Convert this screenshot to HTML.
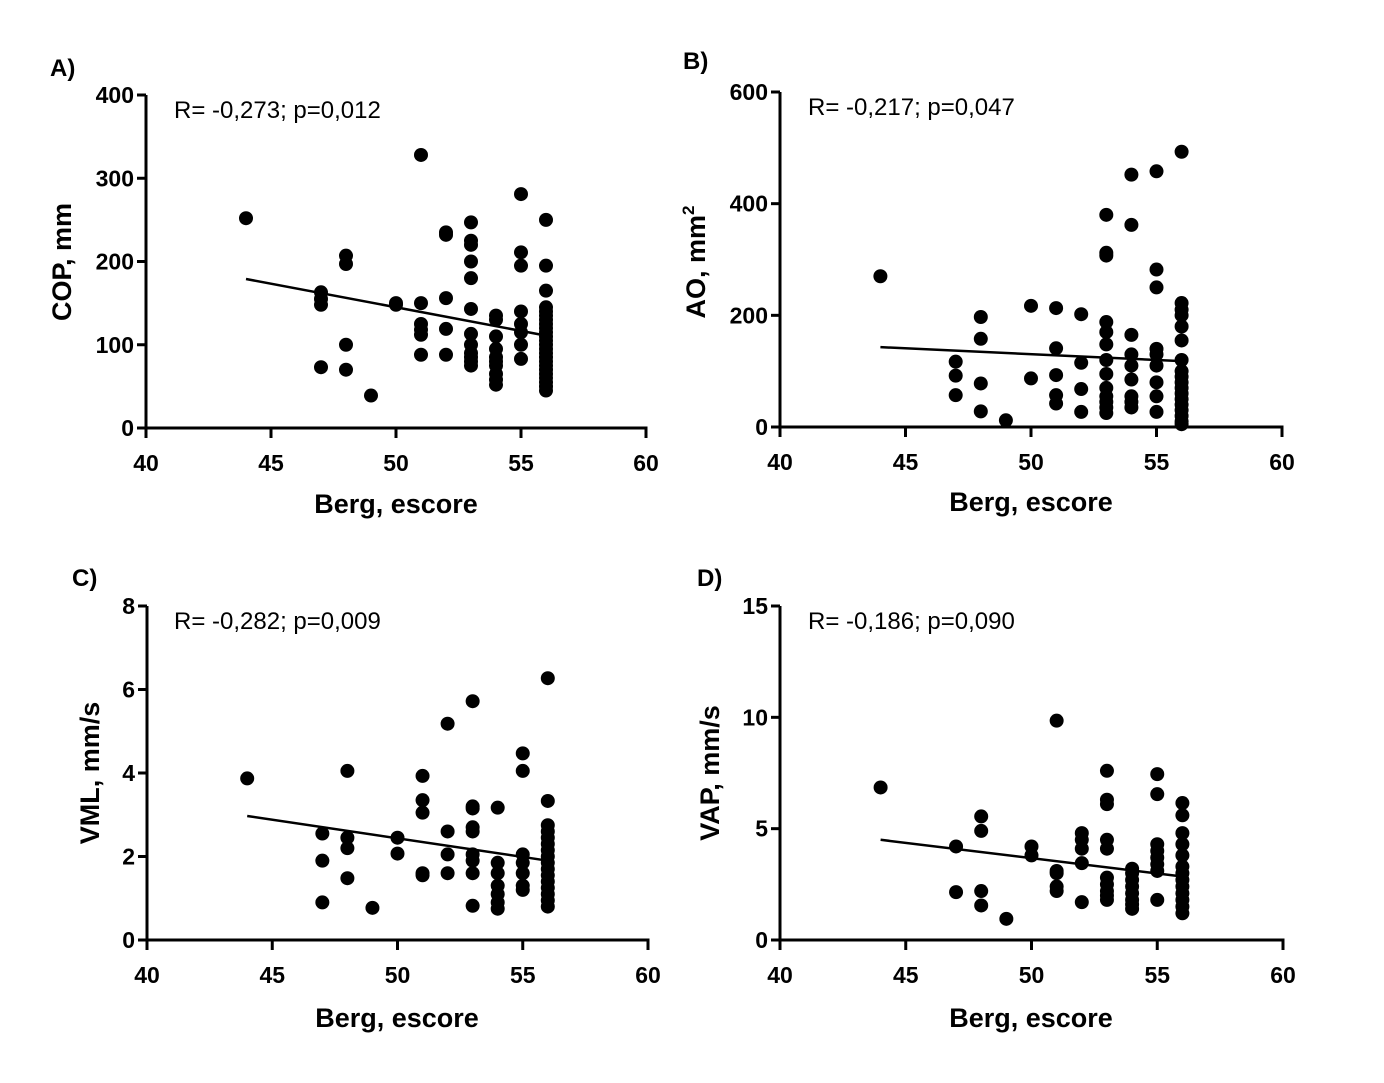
<!DOCTYPE html>
<html><head><meta charset="utf-8"><style>
html,body{margin:0;padding:0;background:#fff;}
svg text{font-family:"Liberation Sans",Arial,sans-serif;fill:#000;}
.t{font-weight:bold;font-size:23px;}
.ttl{font-weight:bold;font-size:27px;}
.pl{font-weight:bold;font-size:24px;}
.an{font-size:24px;}
</style></head><body>
<svg id="s" width="1384" height="1078" xmlns="http://www.w3.org/2000/svg">
<text class="pl" x="50" y="76">A)</text>
<text class="pl" x="683" y="69">B)</text>
<text class="pl" x="72" y="586">C)</text>
<text class="pl" x="697" y="586">D)</text>
<text class="an" x="174" y="118">R= -0,273; p=0,012</text>
<text class="an" x="808" y="115">R= -0,217; p=0,047</text>
<text class="an" x="174" y="629">R= -0,282; p=0,009</text>
<text class="an" x="808" y="629">R= -0,186; p=0,090</text>
<text class="ttl" x="396" y="513" text-anchor="middle">Berg, escore</text>
<text class="ttl" x="1031" y="511" text-anchor="middle">Berg, escore</text>
<text class="ttl" x="397" y="1027" text-anchor="middle">Berg, escore</text>
<text class="ttl" x="1031" y="1027" text-anchor="middle">Berg, escore</text>
<text class="ttl" transform="translate(71,262) rotate(-90)" text-anchor="middle">COP, mm</text>
<text class="ttl" transform="translate(705,262) rotate(-90)" text-anchor="middle">AO, mm<tspan font-size="17" dy="-11">2</tspan></text>
<text class="ttl" transform="translate(99,773) rotate(-90)" text-anchor="middle">VML, mm/s</text>
<text class="ttl" transform="translate(719,773) rotate(-90)" text-anchor="middle">VAP, mm/s</text>
</svg>
<script>
var s=document.getElementById('s'),NS='http://www.w3.org/2000/svg';
function el(n,a,t){var e=document.createElementNS(NS,n);for(var k in a)e.setAttribute(k,a[k]);if(t!==undefined)e.textContent=t;s.appendChild(e);return e;}
var P=[
{x0:146,x1:646,y0:428,y1:95,ym:400,yt:[0,100,200,300,400],line:[179,111],d:{44:[252],47:[163,155,148,73],48:[207,197,100,70],49:[39],50:[150,148],51:[328,150,125,118,112,88],52:[235,232,156,119,88],53:[247,225,220,200,180,143,113,100,90,85,80,75],54:[135,130,110,95,85,80,75,65,58,52],55:[281,211,195,140,125,115,100,83],56:[250,195,165,145,140,135,130,125,120,115,110,105,100,95,90,85,80,75,70,65,60,55,50,45]}},
{x0:780,x1:1282,y0:427,y1:92,ym:600,yt:[0,200,400,600],line:[143,118],d:{44:[270],47:[117,92,57],48:[197,158,78,28],49:[12],50:[217,87],51:[213,141,93,57,42],52:[202,115,68,27],53:[380,312,307,188,170,148,120,95,70,55,45,35,25],54:[452,362,165,130,110,85,55,45,35],55:[458,282,250,140,130,110,80,55,27],56:[493,222,210,200,180,155,120,100,90,80,70,60,50,40,30,20,10,5]}},
{x0:147,x1:648,y0:940,y1:606,ym:8,yt:[0,2,4,6,8],line:[2.97,1.9],d:{44:[3.87],47:[2.55,1.9,0.9],48:[4.05,2.45,2.2,1.48],49:[0.77],50:[2.45,2.07],51:[3.93,3.35,3.05,1.6,1.55],52:[5.18,2.6,2.05,1.6],53:[5.72,3.2,3.15,2.7,2.6,2.05,1.9,1.6,0.82],54:[3.17,1.85,1.6,1.3,1.1,0.9,0.75],55:[4.47,4.05,2.05,1.85,1.6,1.3,1.2],56:[6.27,3.33,2.75,2.6,2.45,2.3,2.15,2,1.85,1.7,1.55,1.4,1.25,1.1,0.95,0.8]}},
{x0:780,x1:1283,y0:940,y1:606,ym:15,yt:[0,5,10,15],line:[4.5,2.85],d:{44:[6.85],47:[4.2,2.15],48:[5.55,4.9,2.2,1.55],49:[0.95],50:[4.2,3.8],51:[9.85,3.1,3.0,2.4,2.2],52:[4.8,4.5,4.1,3.45,1.7],53:[7.6,6.3,6.1,4.5,4.1,2.8,2.5,2.2,2.0,1.8],54:[3.2,3.0,2.7,2.4,2.1,1.8,1.6,1.4],55:[7.45,6.55,4.3,4.0,3.7,3.4,3.1,1.8],56:[6.15,5.6,4.8,4.3,3.8,3.3,3.0,2.7,2.4,2.1,1.8,1.5,1.2]}}
];
P.forEach(function(p){
 var X=function(v){return p.x0+(v-40)/20*(p.x1-p.x0)},Y=function(v){return p.y0+v/p.ym*(p.y1-p.y0)};
 el('line',{x1:p.x0,y1:p.y1,x2:p.x0,y2:p.y0,stroke:'#000','stroke-width':3});
 el('line',{x1:p.x0-1.5,y1:p.y0,x2:p.x1+1.5,y2:p.y0,stroke:'#000','stroke-width':3});
 p.yt.forEach(function(v){var y=Y(v);el('line',{x1:p.x0-9,y1:y,x2:p.x0,y2:y,stroke:'#000','stroke-width':3});el('text',{'class':'t',x:p.x0-12,y:y+8,'text-anchor':'end'},v);});
 [40,45,50,55,60].forEach(function(v){var x=X(v);el('line',{x1:x,y1:p.y0,x2:x,y2:p.y0+10,stroke:'#000','stroke-width':3});el('text',{'class':'t',x:x,y:p.y0+43,'text-anchor':'middle'},v);});
 for(var k in p.d)p.d[k].forEach(function(v){el('circle',{cx:X(+k),cy:Y(v),r:7,fill:'#000'});});
 el('line',{x1:X(44),y1:Y(p.line[0]),x2:X(56),y2:Y(p.line[1]),stroke:'#000','stroke-width':2.5});
});
</script>
</body></html>
